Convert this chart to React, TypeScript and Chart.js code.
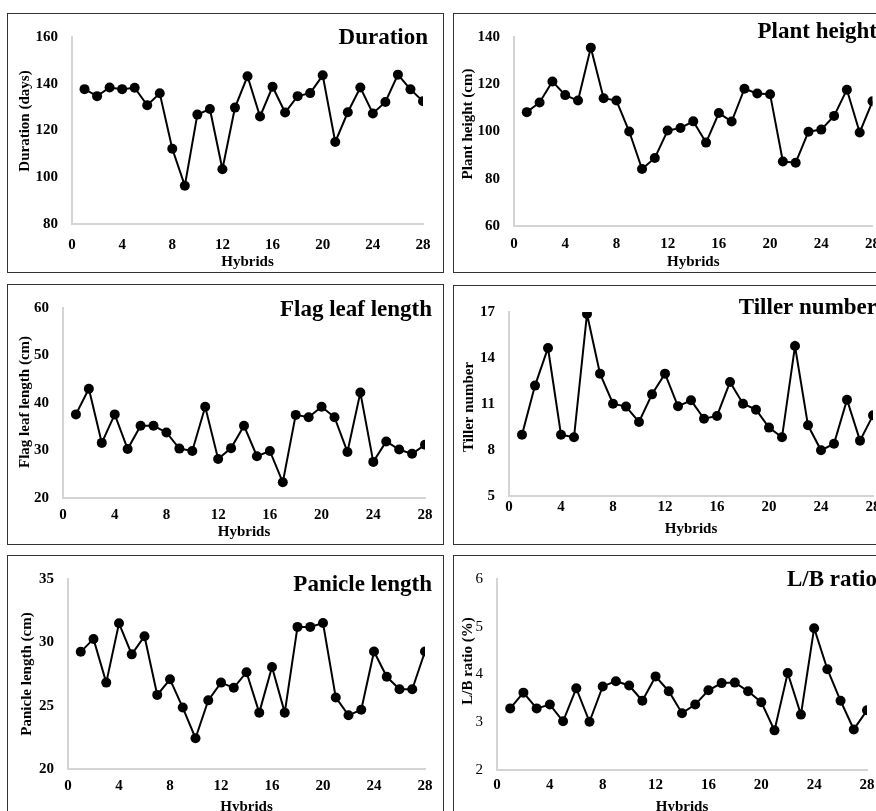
import React, { useEffect, useRef } from "react";
import { Chart, registerables } from "chart.js";

Chart.register(...registerables);

// ---------- data ----------
const hybrids = [1, 2, 3, 4, 5, 6, 7, 8, 9, 10, 11, 12, 13, 14, 15, 16, 17, 18, 19, 20, 21, 22, 23, 24, 25, 26, 27, 28];
const xTickValues = [0, 4, 8, 12, 16, 20, 24, 28];

const duration = [137.7, 134.7, 138.4, 137.7, 138.3, 130.8, 135.9, 112.2, 96.4, 126.8, 129.2, 103.4, 129.8, 143.2, 126.0, 138.7, 127.7, 134.7, 136.0, 143.6, 115.1, 127.8, 138.4, 127.3, 132.2, 143.9, 137.6, 132.5];
const durationTicks = [80, 100, 120, 140, 160];

const plantHeight = [108.2, 112.3, 121.2, 115.4, 113.1, 135.5, 114.1, 113.1, 100.0, 84.1, 88.8, 100.4, 101.5, 104.3, 95.3, 107.8, 104.2, 118.1, 116.1, 115.8, 87.3, 86.8, 99.9, 100.8, 106.6, 117.7, 99.6, 112.8];
const plantHeightTicks = [60, 80, 100, 120, 140];

const flagLeafLength = [37.6, 43.0, 31.6, 37.6, 30.3, 35.2, 35.2, 33.8, 30.4, 29.9, 39.2, 28.2, 30.5, 35.2, 28.8, 29.9, 23.3, 37.5, 37.0, 39.2, 37.0, 29.7, 42.2, 27.6, 31.9, 30.2, 29.3, 31.2];
const flagLeafTicks = [20, 30, 40, 50, 60];

const tillerNumber = [9.0, 12.2, 14.65, 9.0, 8.83, 16.87, 12.98, 11.02, 10.83, 9.83, 11.63, 12.98, 10.85, 11.24, 10.04, 10.22, 12.43, 11.02, 10.63, 9.46, 8.83, 14.78, 9.61, 7.98, 8.41, 11.28, 8.61, 10.26];
const tillerTicks = [5, 8, 11, 14, 17];

const panicleLength = [29.25, 30.27, 26.82, 31.5, 29.05, 30.48, 25.85, 27.08, 24.85, 22.43, 25.42, 26.82, 26.41, 27.64, 24.45, 28.05, 24.45, 31.22, 31.22, 31.52, 25.65, 24.24, 24.68, 29.28, 27.28, 26.29, 26.29, 29.28];
const panicleTicks = [20, 25, 30, 35];

const lbRatio = [3.29, 3.62, 3.29, 3.37, 3.02, 3.71, 3.01, 3.75, 3.86, 3.77, 3.45, 3.96, 3.65, 3.19, 3.37, 3.67, 3.82, 3.83, 3.65, 3.42, 2.83, 4.03, 3.16, 4.97, 4.11, 3.45, 2.85, 3.25];
const lbTicks = [2, 3, 4, 5, 6];

// ---------- layout (page coordinates) ----------
type PanelCfg = {
  title: string;
  yTitle: string;
  values: number[];
  yTicks: number[];
  yTickBold: boolean;
  box: { x: number; y: number; w: number; h: number };
  plot: { l: number; t: number; r: number; b: number };
  titleRight: number;
  titleCy: number;
  yTitleCx: number;
  yTitleCy: number;
  xTitleCy: number;
  xTickPad: number;
};

const panels: PanelCfg[] = [
  {
    title: "Duration", yTitle: "Duration (days)", values: duration, yTicks: durationTicks, yTickBold: true,
    box: { x: 7, y: 13, w: 437, h: 260 }, plot: { l: 72, t: 35, r: 423, b: 224 },
    titleRight: 428, titleCy: 38, yTitleCx: 25, yTitleCy: 121, xTitleCy: 262, xTickPad: 12,
  },
  {
    title: "Plant height", yTitle: "Plant height (cm)", values: plantHeight, yTicks: plantHeightTicks, yTickBold: true,
    box: { x: 453, y: 13, w: 437, h: 260 }, plot: { l: 514, t: 28, r: 873, b: 226 },
    titleRight: 877, titleCy: 32, yTitleCx: 468, yTitleCy: 124, xTitleCy: 262, xTickPad: 9,
  },
  {
    title: "Flag leaf length", yTitle: "Flag leaf length (cm)", values: flagLeafLength, yTicks: flagLeafTicks, yTickBold: true,
    box: { x: 7, y: 284, w: 437, h: 261 }, plot: { l: 63, t: 302, r: 425, b: 498 },
    titleRight: 432, titleCy: 310, yTitleCx: 25, yTitleCy: 402, xTitleCy: 532, xTickPad: 8,
  },
  {
    title: "Tiller number", yTitle: "Tiller number", values: tillerNumber, yTicks: tillerTicks, yTickBold: true,
    box: { x: 453, y: 285, w: 437, h: 260 }, plot: { l: 509, t: 312, r: 873, b: 496 },
    titleRight: 877, titleCy: 308, yTitleCx: 469, yTitleCy: 407, xTitleCy: 529, xTickPad: 2,
  },
  {
    title: "Panicle length", yTitle: "Panicle length (cm)", values: panicleLength, yTicks: panicleTicks, yTickBold: true,
    box: { x: 7, y: 555, w: 437, h: 262 }, plot: { l: 68, t: 573, r: 425, b: 769 },
    titleRight: 432, titleCy: 585, yTitleCx: 27, yTitleCy: 674, xTitleCy: 807, xTickPad: 8,
  },
  {
    title: "L/B ratio", yTitle: "L/B ratio (%)", values: lbRatio, yTicks: lbTicks, yTickBold: false,
    box: { x: 453, y: 555, w: 437, h: 262 }, plot: { l: 497, t: 570, r: 867, b: 770 },
    titleRight: 877, titleCy: 580, yTitleCx: 468, yTitleCy: 661, xTitleCy: 807, xTickPad: 6,
  },
];

const FONT = '"Liberation Serif", "Times New Roman", serif';

// Panel title (inside the plot, top-right) and rotated y-axis title.
const panelTextPlugin = {
  id: "panelText",
  afterDraw(chart: any, _args: any, opts: any) {
    const ctx = chart.ctx;
    ctx.save();
    ctx.fillStyle = "#000";
    ctx.font = `bold 23px ${FONT}`;
    ctx.textAlign = "right";
    ctx.textBaseline = "middle";
    ctx.fillText(opts.title, opts.tx, opts.ty);
    ctx.translate(opts.yx, opts.yy);
    ctx.rotate(-Math.PI / 2);
    ctx.font = `bold 15px ${FONT}`;
    ctx.textAlign = "center";
    ctx.fillText(opts.yTitle, 0, 0);
    ctx.restore();
  },
};

function Panel({ cfg }: { cfg: PanelCfg }) {
  const ref = useRef<HTMLCanvasElement>(null);
  const cw = cfg.box.w - 2;
  const ch = cfg.box.h - 2;
  const ox = cfg.box.x + 1;
  const oy = cfg.box.y + 1;

  useEffect(() => {
    if (!ref.current) return;
    const chart = new Chart(ref.current, {
      type: "line",
      data: {
        datasets: [
          {
            data: hybrids.map((h, i) => ({ x: h, y: cfg.values[i] })),
            borderColor: "#000",
            backgroundColor: "#000",
            borderWidth: 2,
            pointRadius: 5,
            pointBackgroundColor: "#000",
            pointBorderColor: "#000",
            pointBorderWidth: 0,
            tension: 0,
          },
        ],
      },
      options: {
        responsive: false,
        animation: false,
        devicePixelRatio: 1,
        layout: {
          padding: { left: 0, top: cfg.plot.t - oy, right: ox + cw - cfg.plot.r, bottom: 0 },
        },
        plugins: {
          legend: { display: false },
          tooltip: { enabled: false },
          panelText: {
            title: cfg.title,
            tx: cfg.titleRight - ox,
            ty: cfg.titleCy - oy,
            yTitle: cfg.yTitle,
            yx: cfg.yTitleCx - ox,
            yy: cfg.yTitleCy - oy,
          },
        } as any,
        scales: {
          x: {
            type: "linear",
            min: 0,
            max: 28,
            afterBuildTicks: (s: any) => {
              s.ticks = xTickValues.map((v) => ({ value: v }));
            },
            afterFit: (s: any) => {
              s.height = oy + ch - cfg.plot.b;
            },
            grid: { display: false, drawTicks: false },
            border: { display: true, color: "#d4d4d4", width: 2 },
            ticks: {
              color: "#000",
              font: { family: FONT, size: 15, weight: "bold" },
              padding: cfg.xTickPad,
              maxRotation: 0,
              autoSkip: false,
            },
            title: {
              display: true,
              text: "Hybrids",
              color: "#000",
              font: { family: FONT, size: 15, weight: "bold", lineHeight: 1.2 },
              padding: { top: 0, bottom: Math.max(0, oy + ch - cfg.xTitleCy - 9) },
            },
          },
          y: {
            type: "linear",
            min: cfg.yTicks[0],
            max: cfg.yTicks[cfg.yTicks.length - 1],
            afterBuildTicks: (s: any) => {
              s.ticks = cfg.yTicks.map((v) => ({ value: v }));
            },
            afterFit: (s: any) => {
              s.width = cfg.plot.l - ox;
            },
            grid: { display: false, drawTicks: false },
            border: { display: true, color: "#d4d4d4", width: 2 },
            ticks: {
              color: "#000",
              font: { family: FONT, size: 15, weight: cfg.yTickBold ? "bold" : "normal" },
              padding: 14,
            },
            title: { display: false },
          },
        },
      } as any,
      plugins: [panelTextPlugin as any],
    });
    return () => chart.destroy();
  }, []);

  return (
    <div
      style={{
        position: "absolute",
        left: cfg.box.x,
        top: cfg.box.y,
        width: cfg.box.w,
        height: cfg.box.h,
        border: "1px solid #333",
        boxSizing: "border-box",
        background: "#fff",
      }}
    >
      <canvas ref={ref} width={cw} height={ch} style={{ display: "block", width: cw, height: ch }} />
    </div>
  );
}

export default function App() {
  return (
    <div
      style={{
        position: "absolute",
        left: 0,
        top: 0,
        width: 876,
        height: 811,
        overflow: "hidden",
        background: "#fff",
      }}
    >
      {panels.map((p) => (
        <Panel key={p.title} cfg={p} />
      ))}
    </div>
  );
}
